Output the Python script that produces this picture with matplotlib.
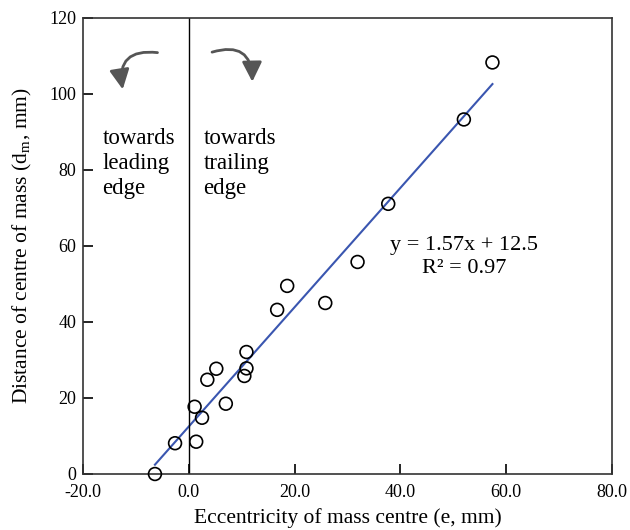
import numpy as np
import matplotlib.pyplot as plt
from matplotlib.patches import FancyArrowPatch

plt.rcParams['font.family'] = ['Liberation Serif', 'DejaVu Serif']
plt.rcParams['mathtext.fontset'] = 'stix'

# data
ecc = [-6.4, -2.6, 1.4, 1.1, 2.5, 7.0, 3.5, 5.2, 10.5, 10.9, 10.9,
       16.7, 18.6, 25.8, 31.9, 37.7, 52.0, 57.4]
dist = [0.0, 8.1, 8.5, 17.7, 14.8, 18.5, 24.8, 27.7, 25.8, 27.8, 32.1,
        43.2, 49.5, 45.0, 55.8, 71.1, 93.3, 108.3]
slope, icpt = 1.57, 12.5
fit_x = [-6.4, 57.4]
xticks = [-20, 0, 20, 40, 60, 80]
yticks = [0, 20, 40, 60, 80, 100, 120]

fig = plt.figure(figsize=(6.3, 5.3), dpi=100)
ax = fig.add_axes([83/630, 56/530, 529/630, 456/530])

ax.plot(fit_x, [slope*v + icpt for v in fit_x], color='#3a56b0', lw=1.5, zorder=2)
ax.scatter(ecc, dist, s=85, facecolors='none', edgecolors='black', lw=1.2, zorder=3,
           clip_on=False)
ax.axvline(0, color='black', lw=1)

ax.set_xlim(-20, 80)
ax.set_ylim(0, 120)
ax.set_xticks(xticks)
ax.set_xticklabels([f'{v:.1f}' for v in xticks])
ax.set_yticks(yticks)
ax.tick_params(direction='in', length=7, width=1.2, labelsize=13, top=False, right=False)
ax.tick_params(axis='x', pad=7)
ax.tick_params(axis='y', pad=5)
for s in ax.spines.values():
    s.set_linewidth(1.2)
    s.set_color('#333333')

ax.set_xlabel('Eccentricity of mass centre (e, mm)', fontsize=15.5, labelpad=5)
ax.set_ylabel('Distance of centre of mass (d$_\\mathregular{m}$, mm)', fontsize=15.5, labelpad=11)

ax.text(-16.3, 91, 'towards\nleading\nedge', fontsize=16.5, va='top', linespacing=1.25)
ax.text(2.8, 91, 'towards\ntrailing\nedge', fontsize=16.5, va='top', linespacing=1.25)
ax.text(52, 57.2, 'y = 1.57x + 12.5\nR² = 0.97', fontsize=16, ha='center', va='center',
        linespacing=1.3)

# curved arrows
a1 = FancyArrowPatch((-5.4, 110.8), (-12.4, 100.5), connectionstyle='arc3,rad=0.7',
                     arrowstyle='-|>,head_length=12,head_width=6', color='#555555', lw=2)
a2 = FancyArrowPatch((3.9, 110.8), (12.0, 102.5), connectionstyle='arc3,rad=-0.7',
                     arrowstyle='-|>,head_length=12,head_width=6', color='#555555', lw=2)
ax.add_patch(a1)
ax.add_patch(a2)

plt.savefig('out.png', dpi=100)
